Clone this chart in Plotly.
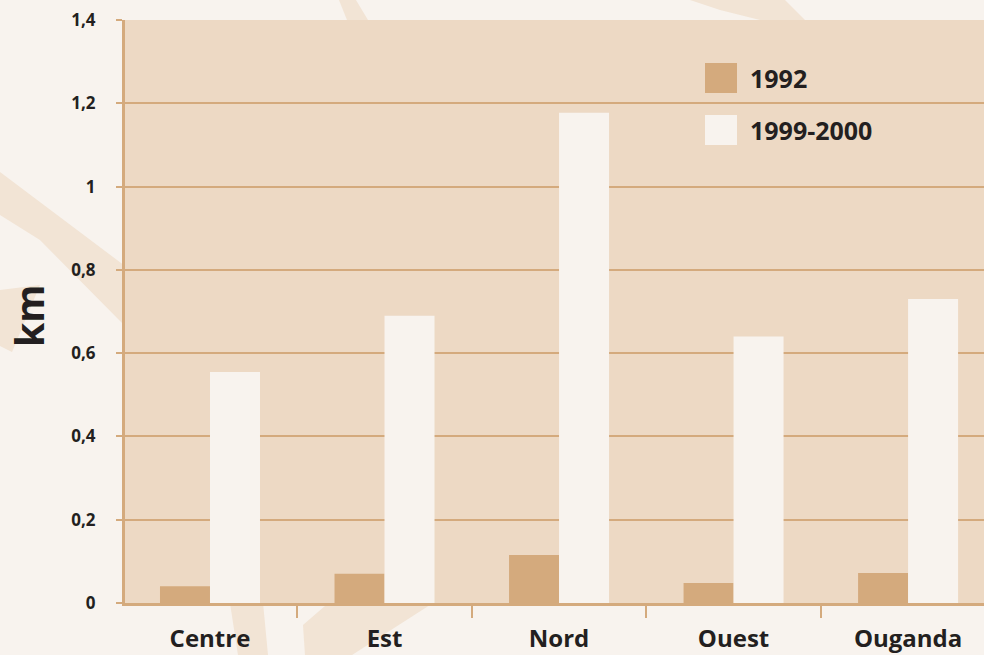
import plotly.graph_objects as go

categories = ["Centre", "Est", "Nord", "Ouest", "Ouganda"]
values_1992 = [0.04, 0.07, 0.115, 0.048, 0.072]
values_1999 = [0.555, 0.69, 1.177, 0.64, 0.73]
series_names = ["1992", "1999-2000"]
y_ticks = [0, 0.2, 0.4, 0.6, 0.8, 1.0, 1.2, 1.4]
y_tick_labels = ["0", "0,2", "0,4", "0,6", "0,8", "1", "1,2", "1,4"]

W, H = 984, 655
L, T, B = 125, 20, 52
PW, PH = W - L, H - T - B

PAPER = "#F8F3EE"
PLOT_BG = "#EDD9C4"
TAN = "#D4AA7D"
LIGHT = "#F8F3EE"
STREAK = "#F2E4D5"
TXT = "#231F20"
FONT = "Open Sans"


def px(x):
    return (x - L) / PW


def py(y):
    return (H - B - y) / PH


def poly(points):
    return "M " + " L ".join(f"{px(a):.4f},{py(b):.4f}" for a, b in points) + " Z"


fig = go.Figure()
fig.add_trace(go.Bar(x=categories, y=values_1992, name=series_names[0],
                     marker=dict(color=TAN, line=dict(width=0)), showlegend=False))
fig.add_trace(go.Bar(x=categories, y=values_1999, name=series_names[1],
                     marker=dict(color=LIGHT, line=dict(width=0)), showlegend=False))

streaks = [
    [(0, 172), (125, 266), (125, 326), (40, 240), (0, 215)],
    [(0, 290), (40, 285), (12, 352), (0, 346)],
    [(339, 0), (356, 0), (368, 20), (347, 20)],
    [(690, 0), (785, 0), (805, 20), (760, 20), (720, 10)],
    [(230, 603), (263, 603), (268, 655), (238, 655)],
    [(305, 655), (303, 625), (325, 606), (433, 603), (352, 655)],
]
shapes = []
for s in streaks:
    shapes.append(dict(type="path", xref="paper", yref="paper", path=poly(s),
                       fillcolor=STREAK, line=dict(width=0), layer="below"))
# plot area background
shapes.append(dict(type="rect", xref="x domain", yref="y domain", x0=0, x1=1, y0=0, y1=1,
                   fillcolor=PLOT_BG, line=dict(width=0), layer="below"))

# custom legend (large swatches)
legend_colors = [TAN, LIGHT]
legend_y = [78, 130]
annotations = []
for name, col, yc in zip(series_names, legend_colors, legend_y):
    shapes.append(dict(type="rect", xref="paper", yref="paper",
                       x0=px(705), x1=px(737), y0=py(yc + 15), y1=py(yc - 15),
                       fillcolor=col, line=dict(width=0), layer="above"))
    annotations.append(dict(xref="paper", yref="paper", x=px(748), y=py(yc),
                            xanchor="left", yanchor="middle", showarrow=False,
                            text=f"<b>{name}</b>",
                            font=dict(family=FONT, size=25, color=TXT)))

annotations.append(dict(xref="paper", yref="paper", x=px(28), y=py(316),
                        xanchor="center", yanchor="middle", showarrow=False,
                        textangle=-90, text="<b>km</b>",
                        font=dict(family=FONT, size=39, color=TXT)))

fig.update_layout(
    width=W, height=H,
    margin=dict(l=L, r=0, t=T, b=B, pad=0),
    paper_bgcolor=PAPER,
    plot_bgcolor="rgba(0,0,0,0)",
    barmode="group",
    bargap=0.427,
    bargroupgap=0,
    showlegend=False,
    shapes=shapes,
    annotations=annotations,
    xaxis=dict(
        range=[-0.487, 4.435],
        showgrid=False,
        showline=True, linecolor=TAN, linewidth=3,
        ticks="outside", tickson="boundaries", ticklen=12, tickwidth=2, tickcolor=TAN,
        tickfont=dict(family=FONT, size=24, color=TXT, weight="bold"),
        ticklabelstandoff=12,
        zeroline=False,
    ),
    yaxis=dict(
        range=[0, 1.4],
        tickvals=y_ticks, ticktext=y_tick_labels,
        showgrid=True, gridcolor=TAN, gridwidth=2,
        showline=True, linecolor=TAN, linewidth=3,
        ticks="outside", ticklen=6, tickwidth=2, tickcolor=TAN,
        tickfont=dict(family=FONT, size=17, color=TXT, weight="bold"),
        ticklabelstandoff=17,
        zeroline=False,
    ),
)

fig.write_html("out.html", config={"displayModeBar": False},
               post_script="document.body.style.margin='0px';document.body.style.overflow='hidden';")
